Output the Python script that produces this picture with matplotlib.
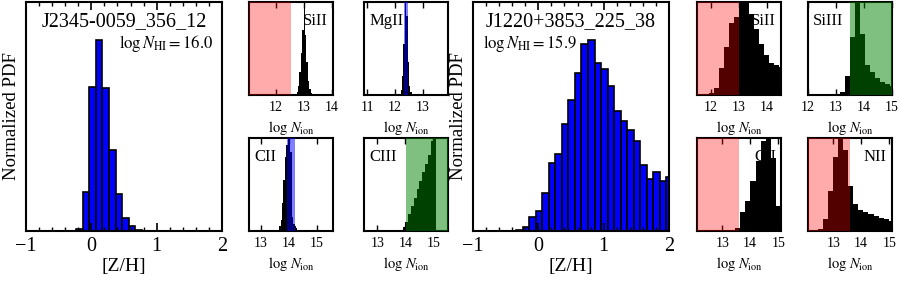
import numpy as np
import matplotlib
matplotlib.use('Agg')
import matplotlib.pyplot as plt
from matplotlib.ticker import MultipleLocator

plt.rcParams['font.family'] = ['Liberation Serif', 'DejaVu Serif']
plt.rcParams['mathtext.fontset'] = 'stix'
plt.rcParams['axes.linewidth'] = 1.5

# ---------------- data ----------------
left_name = 'J2345-0059_356_12'
left_nhi = 16.0
left_zh_edges = [-0.23, -0.13, -0.03, 0.07, 0.17, 0.27, 0.37, 0.47, 0.57, 0.67, 0.77]
left_zh_pdf = [2, 39, 144, 191, 143, 81, 37, 13, 5, 1]

right_name = 'J1220+3853_225_38'
right_nhi = 15.9
right_zh_edges = [-0.34, -0.24, -0.14, -0.04, 0.06, 0.16, 0.26, 0.36, 0.46, 0.56, 0.66,
                  0.76, 0.86, 0.96, 1.06, 1.16, 1.26, 1.36, 1.46, 1.56, 1.66, 1.76,
                  1.86, 1.96, 2.06]
right_zh_pdf = [1, 3.7, 13.7, 20, 37.7, 67.7, 76.7, 107, 131, 157.7, 187, 191, 168.3,
                162, 145, 120.3, 110.3, 101, 90, 65.7, 52.3, 59, 50, 54.3]

# small panels: ion, kind, value, error, hist edges, hist heights
L_ions = ['SiII', 'MgII', 'CII', 'CIII']
L_kind = ['upper', 'detect', 'detect', 'lower']
L_value = [12.55, 12.39, 14.07, 14.02]
L_err = [0.0, 0.06, 0.15, 0.0]
L_edges = [
    [12.75, 12.8, 12.85, 12.9, 12.95, 13.0, 13.05, 13.1, 13.15, 13.2, 13.25, 13.3],
    [12.2, 12.25, 12.3, 12.35, 12.4, 12.45, 12.5, 12.55, 12.6],
    [13.65, 13.7, 13.75, 13.8, 13.85, 13.9, 13.95, 14.0, 14.05, 14.1, 14.15, 14.2,
     14.25, 14.3, 14.35, 14.4],
    [13.8, 13.9, 14.0, 14.1, 14.2, 14.3, 14.4, 14.5, 14.6, 14.7, 14.8, 14.9, 15.0, 15.1],
]
L_hist = [
    [0.03, 0.1, 0.25, 0.45, 0.7, 1.0, 0.65, 0.35, 0.15, 0.06, 0.02],
    [0.05, 0.2, 0.55, 1.0, 0.85, 0.35, 0.1, 0.03],
    [0.05, 0.12, 0.3, 0.55, 0.8, 0.92, 1.0, 0.97, 0.85, 0.15, 0.08, 0.05, 0.03, 0.015, 0.005],
    [0.01, 0.04, 0.1, 0.18, 0.27, 0.36, 0.45, 0.54, 0.63, 0.72, 0.82, 0.97, 1.0],
]
L_labelside = ['right', 'left', 'left', 'left']

R_ions = ['SiII', 'SiIII', 'CII', 'NII']
R_kind = ['upper', 'lower', 'upper', 'upper']
R_value = [13.0, 13.5, 13.6, 13.6]
R_err = [0.0, 0.0, 0.0, 0.0]
R_edges = [
    [11.92, 12.10, 12.28, 12.46, 12.64, 12.82, 13.00, 13.18, 13.36, 13.54, 13.72, 13.90,
     14.08, 14.26, 14.44, 14.62],
    [13.13, 13.31, 13.49, 13.67, 13.85, 14.03, 14.21, 14.39, 14.57, 14.75, 14.93, 15.11],
    [13.47, 13.65, 13.83, 14.01, 14.19, 14.37, 14.55, 14.73, 14.91, 15.09, 15.27],
    [12.46, 12.64, 12.82, 13.0, 13.18, 13.36, 13.54, 13.72, 13.9, 14.08, 14.26, 14.44,
     14.62, 14.8, 14.98, 15.16],
]
R_hist = [
    [0.025, 0.07, 0.29, 0.52, 0.77, 0.84, 1.0, 1.0, 0.875, 0.71, 0.55, 0.43, 0.34, 0.32, 0.3],
    [0.03, 0.2, 0.62, 1.0, 0.66, 0.32, 0.25, 0.18, 0.14, 0.12, 0.1],
    [0.03, 0.2, 0.32, 0.54, 0.75, 0.97, 1.0, 0.79, 0.27, 0.08],
    [0.02, 0.125, 0.43, 0.8, 1.0, 0.875, 0.48, 0.29, 0.23, 0.2, 0.18, 0.16, 0.14, 0.125, 0.11],
]
R_labelside = ['right', 'left', 'right', 'right']

# ---------------- figure ----------------
W, H = 900, 281
fig = plt.figure(figsize=(W / 100, H / 100), dpi=100)


def px_axes(x0, x1, y0, y1):
    return fig.add_axes([x0 / W, 1 - y1 / H, (x1 - x0) / W, (y1 - y0) / H])


def main_panel(ax, name, nhi, edges, pdf, nhi_side):
    edges = np.asarray(edges)
    ax.bar(edges[:-1], pdf, width=np.diff(edges), align='edge',
           color='#0000ff', edgecolor='black', linewidth=1.2)
    ax.set_xlim(-1, 2)
    ax.set_ylim(0, 1.2 * max(pdf))
    ax.xaxis.set_major_locator(MultipleLocator(1))
    ax.xaxis.set_minor_locator(MultipleLocator(0.2))
    ax.tick_params(axis='x', which='major', direction='in', top=True, length=6,
                   width=1.2, labelsize=14.5, pad=4)
    ax.tick_params(axis='x', which='minor', direction='in', top=True, length=3, width=1)
    ax.tick_params(axis='y', which='both', left=False, right=False, labelleft=False)
    ax.set_xlabel('[Z/H]', fontsize=14, labelpad=2)
    ax.set_ylabel('Normalized PDF', fontsize=13.5, labelpad=4)
    ax.text(0.5, 0.915, name, transform=ax.transAxes, ha='center', va='center',
            fontsize=14.5)
    s = r'$\log N_{\rm HI} = %.1f$' % nhi
    if nhi_side == 'right':
        ax.text(0.955, 0.82, s, transform=ax.transAxes, ha='right', va='center', fontsize=12)
    else:
        ax.text(0.05, 0.82, s, transform=ax.transAxes, ha='left', va='center', fontsize=12)


def small_panel(ax, ion, kind, value, err, edges, hist, side):
    xlo, xhi = value - 1.5, value + 1.5
    ax.stairs(hist, edges, fill=True, color='black', zorder=2)
    if kind == 'upper':
        ax.axvspan(xlo, value, color='red', alpha=0.33, lw=0, zorder=5)
    elif kind == 'lower':
        ax.axvspan(value, xhi, color='green', alpha=0.5, lw=0, zorder=5)
    else:
        ax.axvspan(value - err, value + err, color='blue', alpha=0.5, lw=0, zorder=5)
    ax.set_xlim(xlo, xhi)
    ax.set_ylim(0, max(hist))
    ax.xaxis.set_major_locator(MultipleLocator(1))
    ax.tick_params(axis='x', direction='in', top=True, length=4, width=1,
                   labelsize=10, pad=4)
    ax.tick_params(axis='y', left=False, right=False, labelleft=False)
    ax.set_xlabel(r'$\log\,N_{\rm ion}$', fontsize=10.5, labelpad=4)
    if side == 'right':
        ax.text(0.94, 0.8, ion, transform=ax.transAxes, ha='right', va='center',
                fontsize=12, zorder=1)
    else:
        ax.text(0.06, 0.8, ion, transform=ax.transAxes, ha='left', va='center',
                fontsize=12, zorder=1)


axL = px_axes(26, 222, 2, 231)
main_panel(axL, left_name, left_nhi, left_zh_edges, left_zh_pdf, 'right')
axR = px_axes(473, 669, 2, 231)
main_panel(axR, right_name, right_nhi, right_zh_edges, right_zh_pdf, 'left')

L_pos = [(249, 333, 2, 95), (364, 448, 2, 95), (249, 333, 138, 231), (364, 448, 138, 231)]
R_pos = [(697, 781, 2, 95), (808, 892, 2, 95), (697, 781, 138, 231), (808, 892, 138, 231)]

for i in range(4):
    ax = px_axes(*L_pos[i])
    small_panel(ax, L_ions[i], L_kind[i], L_value[i], L_err[i], L_edges[i], L_hist[i],
                L_labelside[i])
    ax = px_axes(*R_pos[i])
    small_panel(ax, R_ions[i], R_kind[i], R_value[i], R_err[i], R_edges[i], R_hist[i],
                R_labelside[i])

fig.savefig('out.png', dpi=100)
